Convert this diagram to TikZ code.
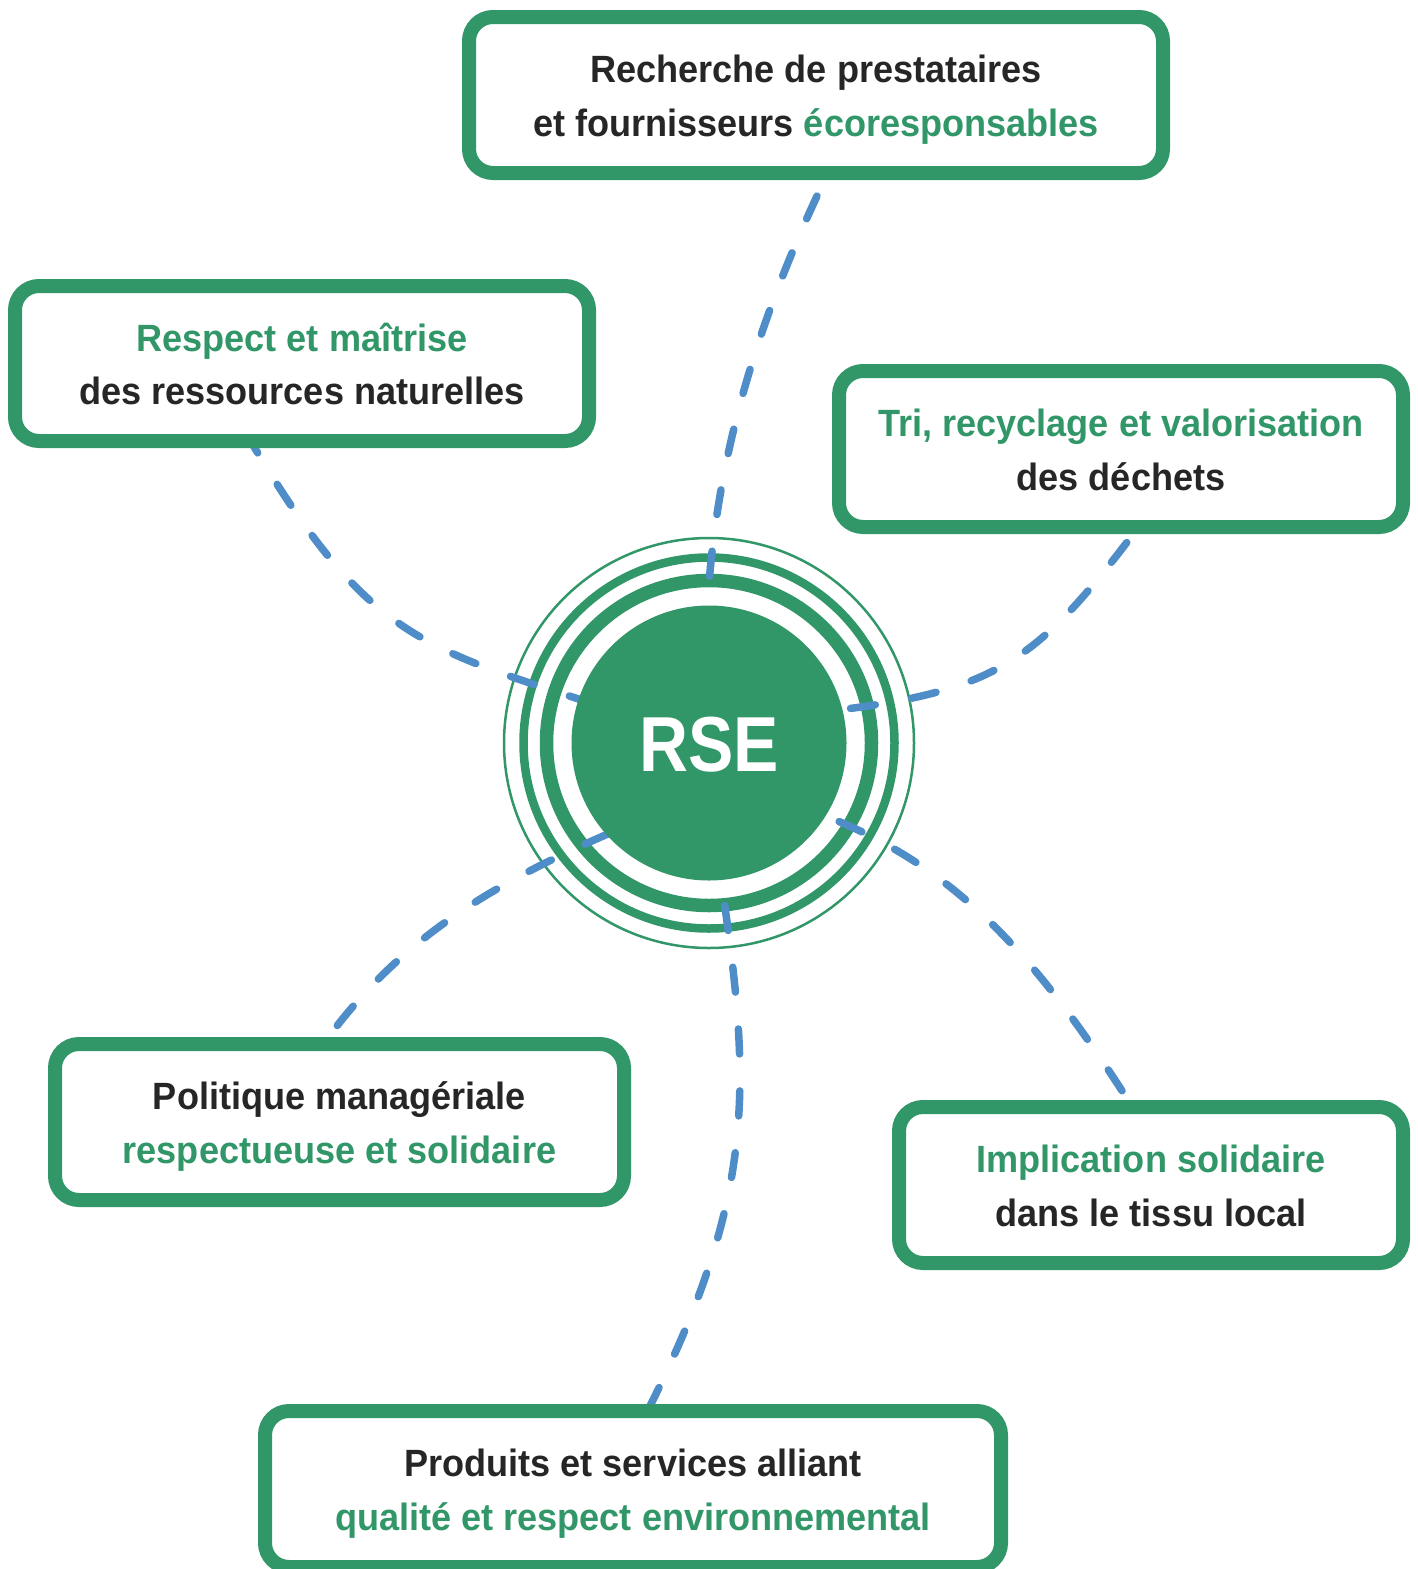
\documentclass[tikz,border=0pt]{standalone}
\usepackage{fontspec}
\setmainfont{Liberation Sans}[FakeStretch=0.95]
\newfontfamily\rsefont{Liberation Sans}[FakeStretch=0.87]
\definecolor{rsegreen}{RGB}{49,150,104}
\definecolor{rseblue}{RGB}{79,141,200}
\definecolor{rsedark}{RGB}{38,38,38}
\newcommand\lnstrut{\rule[-9pt]{0pt}{47pt}}
\newcommand\gr[1]{\textcolor{rsegreen}{#1}}
\begin{document}
\begin{tikzpicture}[x=1pt,y=-1pt,
  box/.style={draw=rsegreen, line width=14pt, fill=white, rounded corners=24pt,
    inner sep=0pt, align=center, text=rsedark,
    font=\bfseries\fontsize{38}{53.5}\selectfont},
  link/.style={draw=rseblue, line width=7.5pt, line cap=round, dash pattern=on 25pt off 37pt},
  ring/.style={draw=rsegreen}]
\useasboundingbox (0,0) rectangle (1417,1569);
\clip (0,0) rectangle (1417,1569);

% rings
\coordinate (c) at (709,743);
\draw[ring, line width=2.5pt] (c) circle[radius=205pt];
\draw[ring, line width=8.5pt] (c) circle[radius=185.5pt];
\draw[ring, line width=13.5pt] (c) circle[radius=162.5pt];

% connector end points
\coordinate (s1) at (817,196);
\coordinate (e1) at (707,615);
\coordinate (s2) at (250,440);
\coordinate (e2) at (600,706);
\coordinate (s3) at (1140,525);
\coordinate (e3) at (830,711);
\coordinate (s4) at (330,1035);
\coordinate (e4) at (610,833);
\coordinate (s5) at (1128,1100);
\coordinate (e5) at (815,812);
\coordinate (s6) at (648,1410);
\coordinate (e6) at (718,860);

% connectors
\draw[link] (s1) .. controls (755,330) and (714,465) .. (e1);
\draw[link, dash phase=10pt] (s2) .. controls (367,638) and (420,647) .. (e2);
\draw[link, dash phase=40pt] (s3) .. controls (1038,661) and (998,691) .. (e3);
\draw[link, dash phase=50pt] (s4) .. controls (402,939) and (490,885) .. (e4);
\draw[link, dash phase=51pt] (s5) .. controls (1036,957) and (956,864) .. (e5);
\draw[link] (s6) .. controls (760,1187) and (751,1078) .. (e6);

% centre disk
\node[circle, fill=rsegreen, minimum size=275pt, inner sep=0pt] (disk) at (c) {};
\node[text=white, inner sep=0pt, font=\rsefont\bfseries\fontsize{78}{78}\selectfont] (rse) at (709,745) {RSE};

% boxes
\node[box, minimum width=694pt, minimum height=156pt] (b1) at (816,95)
  {\lnstrut Recherche de prestataires\\\lnstrut et fournisseurs \gr{écoresponsables}};
\node[box, minimum width=574pt, minimum height=155pt] (b2) at (302,363.5)
  {\lnstrut\gr{Respect et maîtrise}\\\lnstrut des ressources naturelles};
\node[box, minimum width=564pt, minimum height=156pt] (b3) at (1121,449)
  {\lnstrut\gr{Tri, recyclage et valorisation}\\\lnstrut des déchets};
\node[box, minimum width=569pt, minimum height=156pt] (b4) at (339.5,1122)
  {\lnstrut Politique managériale\\\lnstrut\gr{respectueuse et solidaire}};
\node[box, minimum width=504pt, minimum height=156pt] (b5) at (1151,1185)
  {\lnstrut\gr{Implication solidaire}\\\lnstrut dans le tissu local};
\node[box, minimum width=736pt, minimum height=156pt] (b6) at (633,1489)
  {\lnstrut Produits et services alliant\\\lnstrut\gr{qualité et respect environnemental}};
\end{tikzpicture}
\end{document}
